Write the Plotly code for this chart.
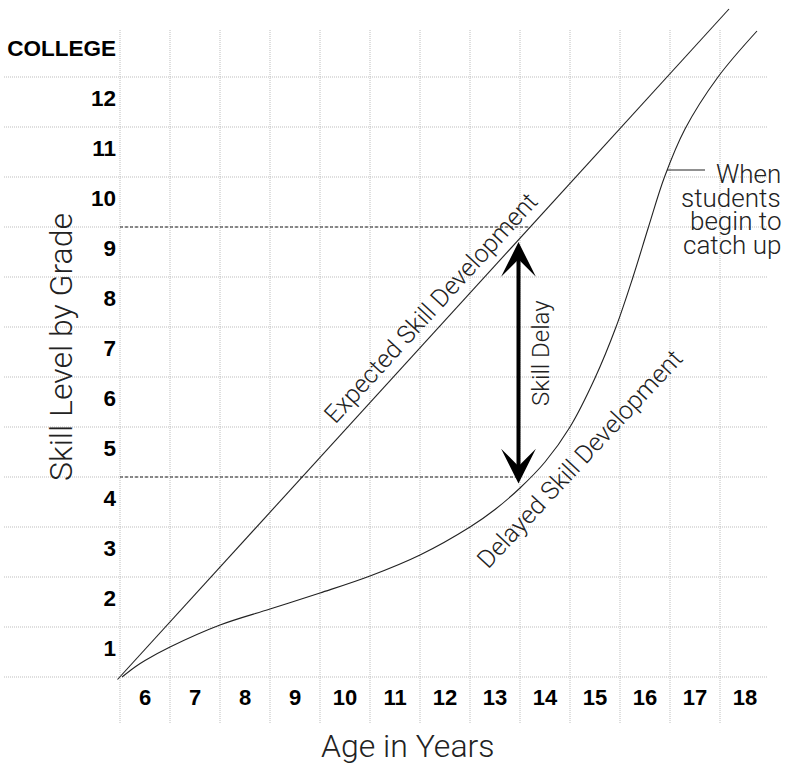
import plotly.graph_objects as go

# ---------------- data ----------------
ages = [6, 7, 8, 9, 10, 11, 12, 13, 14, 15, 16, 17, 18]
grade_labels = ["1", "2", "3", "4", "5", "6", "7", "8", "9", "10", "11", "12", "COLLEGE"]
grade_levels = list(range(13))  # grid rows 0..12

expected_age = [5.45, 17.68]
expected_grade = [-0.05, 13.36]

delayed_age = [5.54, 5.8, 6.0, 6.5, 7.5, 8.5, 9.5, 10.5, 11.5, 12.5, 13.0, 13.5, 14.0,
               14.5, 15.0, 15.42, 15.76, 16.07, 16.39, 16.8, 17.46, 18.24]
delayed_grade = [0.0, 0.2, 0.33, 0.6, 1.04, 1.36, 1.68, 2.02, 2.44, 3.0, 3.35, 3.78, 4.3,
                 5.0, 5.98, 7.0, 8.0, 9.0, 10.0, 10.96, 12.0, 12.92]

delay_age = 13.47
delay_top = 8.7
delay_bottom = 3.84
ref_grade_high = 9
ref_grade_low = 4
ref_end_high = 13.68
ref_end_low = 13.47

catchup_age = [16.44, 17.2]
catchup_grade = [10.14, 10.14]
catchup_lines = ["When", "students", "begin to", "catch up"]

# ---------------- layout constants ----------------
X_RANGE = [3.18, 18.44]
Y_RANGE = [-0.92, 13.44]
GRID_TOP = 12.94
W, H = 789, 783
ML, MR, MT, MB = 4, 22, 5, 60
plot_w = W - ML - MR
plot_h = H - MT - MB

def px_x(v):
    return (v - X_RANGE[0]) / (X_RANGE[1] - X_RANGE[0])

def px_y(v):
    return (v - Y_RANGE[0]) / (Y_RANGE[1] - Y_RANGE[0])

LIGHT = "Roboto, 'Open Sans', 'Liberation Sans', sans-serif"
BOLD = "'Liberation Sans', Arial, sans-serif"
INK = "#222"

fig = go.Figure()

# reference dashed lines
fig.add_trace(go.Scatter(x=[ages[0] - 0.5, ref_end_high], y=[ref_grade_high] * 2,
                         mode="lines", line=dict(color=INK, width=1, dash="3px,2px"),
                         hoverinfo="skip", showlegend=False))
fig.add_trace(go.Scatter(x=[ages[0] - 0.5, ref_end_low], y=[ref_grade_low] * 2,
                         mode="lines", line=dict(color=INK, width=1, dash="3px,2px"),
                         hoverinfo="skip", showlegend=False))

# expected skill development
fig.add_trace(go.Scatter(x=expected_age, y=expected_grade, mode="lines",
                         line=dict(color=INK, width=1.1), showlegend=False,
                         name="Expected Skill Development"))
# delayed skill development
fig.add_trace(go.Scatter(x=delayed_age, y=delayed_grade, mode="lines",
                         line=dict(color=INK, width=1.1, shape="spline", smoothing=1.0),
                         showlegend=False, name="Delayed Skill Development"))
# leader line
fig.add_trace(go.Scatter(x=catchup_age, y=catchup_grade, mode="lines",
                         line=dict(color=INK, width=1.1), hoverinfo="skip", showlegend=False))

# dummy trace for label axes
fig.add_trace(go.Scatter(x=[ages[0]], y=[0.5], xaxis="x2", yaxis="y2", mode="markers",
                         marker=dict(opacity=0), hoverinfo="skip", showlegend=False))

shapes = []
for a in ages:
    b = a - 0.5
    shapes.append(dict(type="line", xref="x", yref="y", x0=b, x1=b, y0=Y_RANGE[0], y1=GRID_TOP,
                       line=dict(color="#bdbdbd", width=1, dash="1px,1px"), layer="below"))
for g in grade_levels:
    shapes.append(dict(type="line", xref="x", yref="y", x0=X_RANGE[0], x1=X_RANGE[1], y0=g, y1=g,
                       line=dict(color="#bdbdbd", width=1, dash="1px,1px"), layer="below"))

annotations = [
    dict(x=delay_age, y=delay_top, ax=delay_age, ay=delay_bottom, xref="x", yref="y",
         axref="x", ayref="y", text="", showarrow=True, arrowside="end+start",
         arrowhead=3, startarrowhead=3, arrowwidth=4, arrowsize=1.45, startarrowsize=1.45,
         arrowcolor="black", standoff=0, startstandoff=0),
    dict(x=11.7, y=7.38, xref="x", yref="y", text="Expected Skill Development",
         textangle=-47.5, showarrow=False,
         font=dict(family=LIGHT, size=25, color=INK, weight=300)),
    dict(x=14.68, y=4.36, xref="x", yref="y", text="Delayed Skill Development",
         textangle=-47, showarrow=False,
         font=dict(family=LIGHT, size=25, color=INK, weight=300)),
    dict(x=13.92, y=6.48, xref="x", yref="y", text="Skill Delay",
         textangle=-90, showarrow=False,
         font=dict(family=LIGHT, size=24, color=INK, weight=300)),
    dict(x=(40 - ML) / plot_w, y=(H - MB - 347) / plot_h, xref="paper", yref="paper",
         text="Skill Level by Grade", textangle=-90, showarrow=False,
         font=dict(family=LIGHT, size=32, color=INK, weight=300)),
    dict(x=(408 - ML) / plot_w, y=(H - MB - 767) / plot_h, xref="paper", yref="paper",
         text="Age in Years", showarrow=False,
         font=dict(family=LIGHT, size=32, color=INK, weight=300)),
]
for i, line in enumerate(catchup_lines):
    annotations.append(dict(x=(783 - ML) / plot_w, y=10.06 - 0.47 * i, xref="paper", yref="y",
                            xanchor="right", yanchor="middle", text=line, showarrow=False,
                            font=dict(family=LIGHT, size=26, color=INK, weight=300)))

fig.update_layout(
    width=W, height=H,
    margin=dict(l=ML, r=MR, t=MT, b=MB),
    paper_bgcolor="white", plot_bgcolor="white",
    showlegend=False,
    xaxis=dict(range=X_RANGE, visible=False, fixedrange=True),
    yaxis=dict(range=Y_RANGE, visible=False, fixedrange=True),
    xaxis2=dict(range=X_RANGE, overlaying="x", anchor="free", position=px_y(0),
                tickvals=ages, ticktext=[str(a) for a in ages], side="bottom",
                showgrid=False, zeroline=False, showline=False, ticks="",
                ticklabelstandoff=5, fixedrange=True,
                tickfont=dict(family=BOLD, size=22, color="black", weight="bold")),
    yaxis2=dict(range=Y_RANGE, overlaying="y", anchor="free", position=px_x(ages[0] - 0.5),
                tickvals=[g + 0.5 for g in grade_levels], ticktext=grade_labels, side="left",
                showgrid=False, zeroline=False, showline=False, ticks="",
                ticklabelstandoff=4, ticklabelshift=-4, fixedrange=True,
                tickfont=dict(family=BOLD, size=22.5, color="black", weight="bold")),
    shapes=shapes,
    annotations=annotations,
)

fig.write_html("out.html", config={"displayModeBar": False},
               post_script="document.body.style.margin='0';document.body.style.overflow='hidden';")
